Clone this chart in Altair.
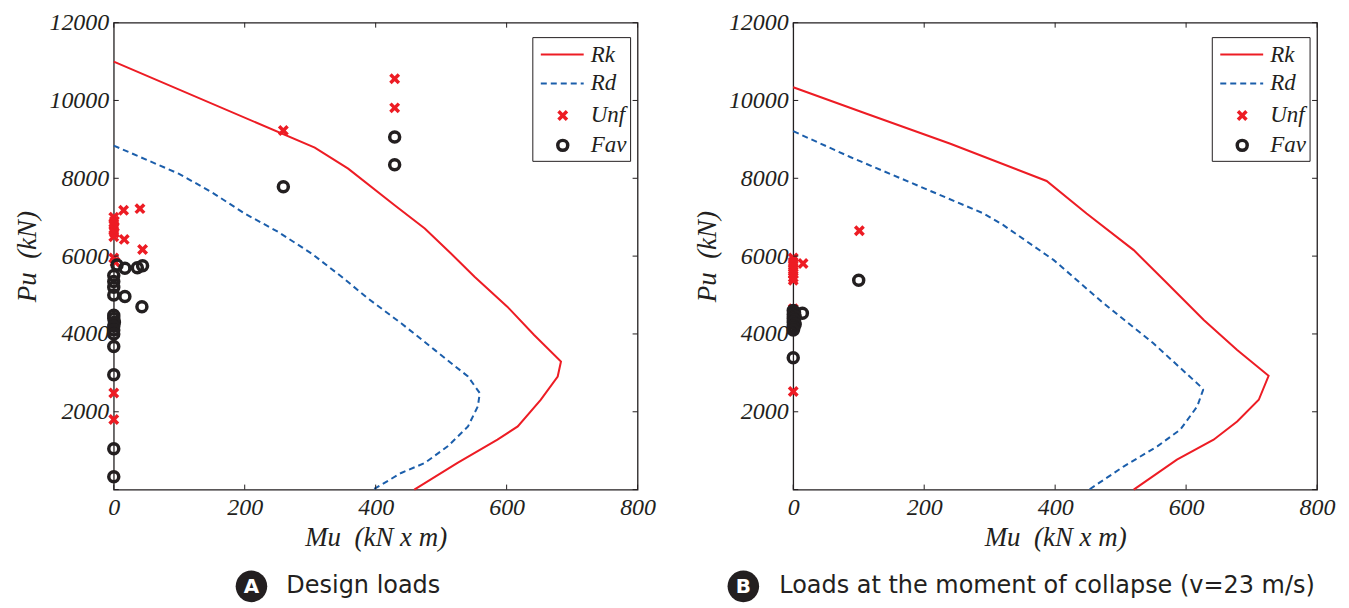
import altair as alt
import pandas as pd

# ---------------- data ----------------
X_TICKS = [0, 200, 400, 600, 800]
Y_TICKS = [0, 2000, 4000, 6000, 8000, 10000, 12000]
Y_LABELS = [2000, 4000, 6000, 8000, 10000, 12000]
LEGEND_LABELS = ["Rk", "Rd", "Unf", "Fav"]

# Panel A (design loads)
A_RK_M = [0, 307, 358, 429, 475, 515, 551, 601, 642, 683, 678, 652, 617, 586, 525, 459]
A_RK_P = [11000, 8787, 8249, 7308, 6709, 6068, 5470, 4701, 3974, 3291, 2906, 2308, 1624, 1282, 684, 0]
A_RD_M = [0, 99, 149, 200, 251, 302, 348, 388, 439, 490, 541, 559, 556, 541, 510, 475, 439, 396]
A_RD_P = [8840, 8120, 7650, 7094, 6624, 6068, 5470, 4915, 4274, 3590, 2906, 2479, 2137, 1624, 1111, 684, 427, 0]
A_UNF_M = [259, 429, 429, 15, 40, 16, 44, 0, 1, 0, 0, 1, 0, 0, 2, 0, 0]
A_UNF_P = [9230, 10560, 9810, 7180, 7220, 6430, 6170, 7000, 6900, 6800, 6700, 6600, 6500, 5950, 5850, 2480, 1800]
A_FAV_M = [429, 429, 259, 5, 17, 36, 44, 17, 43, 0, 0, 0, 0, 0, 0, 1, 0, 0, 0, 0, 0, 0, 0]
A_FAV_P = [9060, 8350, 7780, 5770, 5690, 5700, 5750, 4960, 4700, 5500, 5350, 5200, 5000, 4480, 4400, 4300,
           4200, 4100, 4000, 3680, 2950, 1050, 330]

# Panel B (loads at the moment of collapse)
B_RK_M = [0, 112, 240, 387, 448, 520, 566, 627, 678, 726, 711, 678, 642, 586, 520]
B_RK_P = [10340, 9658, 8889, 7931, 7094, 6154, 5385, 4359, 3590, 2923, 2308, 1752, 1282, 769, 0]
B_RD_M = [0, 87, 189, 291, 321, 398, 474, 550, 622, 626, 617, 591, 556, 505, 452]
B_RD_P = [9210, 8547, 7821, 7094, 6795, 5897, 4787, 3761, 2650, 2564, 2137, 1538, 1111, 598, 0]
B_UNF_M = [101, 15, 0, 0, 0, 0, 0, 0, 0, 0, 0]
B_UNF_P = [6650, 5810, 5950, 5850, 5750, 5650, 5550, 5450, 5380, 4650, 2520]
B_FAV_M = [100, 14, 0, 2, 0, 3, 0, 2, 0, 3, 0, 1, 0, 0]
B_FAV_P = [5380, 4530, 4600, 4550, 4500, 4450, 4400, 4350, 4300, 4250, 4200, 4150, 4100, 3390]

# ---------------- styling ----------------
W, H = 525, 468
RED = "#ED1C24"
BLUE = "#1B5EAB"
BLACK = "#231F20"
SERIF = "Liberation Serif"
SANS = "DejaVu Sans"
XPATH = ("M-1,-0.55L-0.55,-1L0,-0.45L0.55,-1L1,-0.55L0.45,0L1,0.55L0.55,1L0,0.45"
         "L-0.55,1L-1,0.55L-0.45,0Z")
X_SIZE = 120
O_SIZE = 100

XS = alt.Scale(domain=[0, 800], nice=False, zero=False)
YS = alt.Scale(domain=[0, 12000], nice=False, zero=False)
X_AXIS = alt.Axis(values=X_TICKS, title="Mu\u00a0 (kN x m)", labelPadding=6, titlePadding=5,
                  labelFlush=False, labelOverlap=False, format="d")
Y_AXIS = alt.Axis(values=Y_LABELS, title="Pu\u00a0 (kN)", labelPadding=5, titlePadding=7,
                  labelFlush=False, labelOverlap=False, format="d")


def XE():
    return alt.X("M:Q", scale=XS, axis=X_AXIS)


def YE():
    return alt.Y("P:Q", scale=YS, axis=Y_AXIS)


def one():
    return pd.DataFrame({"k": [0]})


def panel(rk_m, rk_p, rd_m, rd_p, unf_m, unf_p, fav_m, fav_p, letter, caption,
          cap_circle_x, cap_text_x):
    rk = pd.DataFrame({"M": rk_m, "P": rk_p, "i": range(len(rk_m))})
    rd = pd.DataFrame({"M": rd_m, "P": rd_p, "i": range(len(rd_m))})
    unf = pd.DataFrame({"M": unf_m, "P": unf_p})
    fav = pd.DataFrame({"M": fav_m, "P": fav_p})

    rk_line = alt.Chart(rk).mark_line(color=RED, strokeWidth=2).encode(
        x=XE(), y=YE(), order="i:O")
    rd_line = alt.Chart(rd).mark_line(color=BLUE, strokeWidth=2, strokeDash=[6, 4]).encode(
        x=XE(), y=YE(), order="i:O")
    unf_pts = alt.Chart(unf).mark_point(shape=XPATH, filled=True, size=X_SIZE, color=RED,
                                        opacity=1, strokeWidth=0).encode(x=XE(), y=YE())
    fav_pts = alt.Chart(fav).mark_point(shape="circle", filled=False, size=O_SIZE, color=BLACK,
                                        opacity=1, strokeWidth=3.5).encode(x=XE(), y=YE())

    xt = pd.DataFrame({"M": X_TICKS})
    yt = pd.DataFrame({"P": Y_TICKS})
    tick_bottom = alt.Chart(xt).mark_rule(color=BLACK, strokeWidth=1).encode(
        x=XE(), y=alt.value(H), y2=alt.value(H - 5))
    tick_top = alt.Chart(xt).mark_rule(color=BLACK, strokeWidth=1).encode(
        x=XE(), y=alt.value(0), y2=alt.value(5))
    tick_left = alt.Chart(yt).mark_rule(color=BLACK, strokeWidth=1).encode(
        y=YE(), x=alt.value(0), x2=alt.value(5))
    tick_right = alt.Chart(yt).mark_rule(color=BLACK, strokeWidth=1).encode(
        y=YE(), x=alt.value(W - 5), x2=alt.value(W))

    # legend box (inside top-right of the plot)
    lx0, lx1, ly0, ly1 = 420, 518, 15, 139
    rows = [32, 61, 93, 123]
    leg = [alt.Chart(one()).mark_rect(fill="white", stroke=BLACK, strokeWidth=1).encode(
        x=alt.value(lx0), x2=alt.value(lx1), y=alt.value(ly0), y2=alt.value(ly1))]
    leg.append(alt.Chart(one()).mark_rule(color=RED, strokeWidth=2).encode(
        x=alt.value(428), x2=alt.value(471), y=alt.value(rows[0])))
    leg.append(alt.Chart(one()).mark_rule(color=BLUE, strokeWidth=2, strokeDash=[6, 4]).encode(
        x=alt.value(428), x2=alt.value(471), y=alt.value(rows[1])))
    leg.append(alt.Chart(one()).mark_point(shape=XPATH, filled=True, size=X_SIZE, color=RED,
                                           opacity=1, strokeWidth=0).encode(
        x=alt.value(450), y=alt.value(rows[2])))
    leg.append(alt.Chart(one()).mark_point(shape="circle", filled=False, size=O_SIZE, color=BLACK,
                                           opacity=1, strokeWidth=3.5).encode(
        x=alt.value(450), y=alt.value(rows[3])))
    for lab, ry in zip(LEGEND_LABELS, rows):
        leg.append(alt.Chart(one()).mark_text(align="left", baseline="middle", font=SERIF,
                                              fontStyle="italic", fontSize=23, color=BLACK).encode(
            x=alt.value(478), y=alt.value(ry), text=alt.value(lab)))

    # caption below the panel
    cy = 565
    cap = [
        alt.Chart(one()).mark_point(shape="circle", filled=True, size=1000, color=BLACK,
                                    opacity=1).encode(x=alt.value(cap_circle_x), y=alt.value(cy)),
        alt.Chart(one()).mark_text(align="center", baseline="middle", font=SANS,
                                   fontWeight="bold", fontSize=20, color="white").encode(
            x=alt.value(cap_circle_x), y=alt.value(cy + 1), text=alt.value(letter)),
        alt.Chart(one()).mark_text(align="left", baseline="middle", font=SANS,
                                   fontSize=24, color=BLACK).encode(
            x=alt.value(cap_text_x), y=alt.value(cy), text=alt.value(caption)),
    ]

    return alt.layer(rk_line, rd_line, unf_pts, fav_pts,
                     tick_bottom, tick_top, tick_left, tick_right,
                     *leg, *cap).properties(width=W, height=H)


left = panel(A_RK_M, A_RK_P, A_RD_M, A_RD_P, A_UNF_M, A_UNF_P, A_FAV_M, A_FAV_P,
             "A", "Design loads", 138, 173)
right = panel(B_RK_M, B_RK_P, B_RD_M, B_RD_P, B_UNF_M, B_UNF_P, B_FAV_M, B_FAV_P,
              "B", "Loads at the moment of collapse (v=23 m/s)", -50, -14)

chart = alt.hconcat(
    left, right, spacing=36, background="white",
    padding={"left": 5, "top": 1, "right": 5, "bottom": 5},
).configure_view(
    stroke=BLACK, strokeWidth=1.3
).configure_axis(
    grid=False, ticks=False, domain=False,
    labelFont=SERIF, labelFontStyle="italic", labelFontSize=24, labelColor=BLACK,
    titleFont=SERIF, titleFontStyle="italic", titleFontSize=27, titleFontWeight="normal",
    titleColor=BLACK,
)

chart.save("out.html", embed_options={"renderer": "svg", "actions": False})
